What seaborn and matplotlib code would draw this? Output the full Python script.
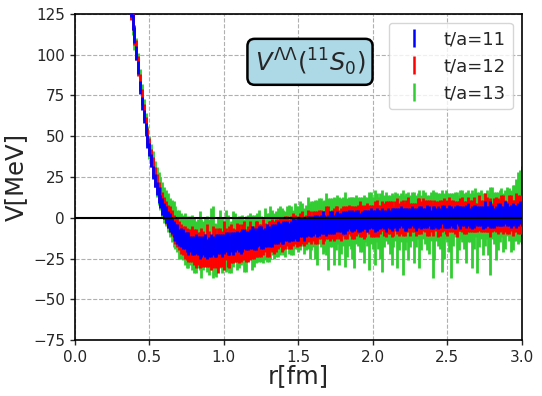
import matplotlib
matplotlib.use("Agg")
import matplotlib.pyplot as plt
from matplotlib.lines import Line2D
import seaborn as sns

# r values [fm] (lattice points, coarse set)
r = [0.350, 0.375, 0.400, 0.425, 0.450, 0.475, 0.500, 0.525, 0.550, 0.575,
     0.600, 0.625, 0.650, 0.675, 0.700, 0.725, 0.750, 0.775, 0.800, 0.825,
     0.850, 0.875, 0.900, 0.925, 0.950, 0.975, 1.000, 1.025, 1.050, 1.075,
     1.100, 1.125, 1.150, 1.175, 1.200, 1.225, 1.250, 1.275, 1.300, 1.325,
     1.350, 1.375, 1.400, 1.425, 1.450, 1.475, 1.500, 1.525, 1.550, 1.575,
     1.600, 1.625, 1.650, 1.675, 1.700, 1.725, 1.750, 1.775, 1.800, 1.825,
     1.850, 1.875, 1.900, 1.925, 1.950, 1.975, 2.000, 2.025, 2.050, 2.075,
     2.100, 2.125, 2.150, 2.175, 2.200, 2.225, 2.250, 2.275, 2.300, 2.325,
     2.350, 2.375, 2.400, 2.425, 2.450, 2.475, 2.500, 2.525, 2.550, 2.575,
     2.600, 2.625, 2.650, 2.675, 2.700, 2.725, 2.750, 2.775, 2.800, 2.825,
     2.850, 2.875, 2.900, 2.925, 2.950, 2.975, 3.000]
# r values in between
r_mid = [0.3625, 0.3875, 0.4125, 0.4375, 0.4625, 0.4875, 0.5125, 0.5375, 0.5625, 0.5875,
         0.6125, 0.6375, 0.6625, 0.6875, 0.7125, 0.7375, 0.7625, 0.7875, 0.8125, 0.8375,
         0.8625, 0.8875, 0.9125, 0.9375, 0.9625, 0.9875, 1.0125, 1.0375, 1.0625, 1.0875,
         1.1125, 1.1375, 1.1625, 1.1875, 1.2125, 1.2375, 1.2625, 1.2875, 1.3125, 1.3375,
         1.3625, 1.3875, 1.4125, 1.4375, 1.4625, 1.4875, 1.5125, 1.5375, 1.5625, 1.5875,
         1.6125, 1.6375, 1.6625, 1.6875, 1.7125, 1.7375, 1.7625, 1.7875, 1.8125, 1.8375,
         1.8625, 1.8875, 1.9125, 1.9375, 1.9625, 1.9875, 2.0125, 2.0375, 2.0625, 2.0875,
         2.1125, 2.1375, 2.1625, 2.1875, 2.2125, 2.2375, 2.2625, 2.2875, 2.3125, 2.3375,
         2.3625, 2.3875, 2.4125, 2.4375, 2.4625, 2.4875, 2.5125, 2.5375, 2.5625, 2.5875,
         2.6125, 2.6375, 2.6625, 2.6875, 2.7125, 2.7375, 2.7625, 2.7875, 2.8125, 2.8375,
         2.8625, 2.8875, 2.9125, 2.9375, 2.9625, 2.9875]

# t/a=11
v11 = [150, 128, 112, 92, 70, 54, 42, 28, 18, 10,
       4, -1, -5, -9, -12, -13, -15, -16, -17, -17,
       -18, -17, -18, -17, -17, -16, -16, -16, -15, -15,
       -15, -14, -14, -13, -13, -12, -12, -12, -11, -11,
       -10, -9, -9, -8, -8, -7, -7, -6, -6, -5,
       -5, -5, -4, -4, -4, -3, -3, -3, -3, -2,
       -2, -2, -2, -2, -1, -1, -1, -1, -1, -1,
       0, -1, 0, 0, 0, -1, 0, 0, 0, 0,
       0, 1, 0, 0, 0, 1, 0, 1, 0, 1,
       1, 1, 0, 1, 1, 1, 2, 1, 1, 1,
       2, 1, 2, 1, 2, 2, 2]
e11 = [6, 5, 5, 4, 4, 4, 4, 4, 4, 4,
       5, 5, 5, 5, 5, 6, 6, 5, 6, 6,
       6, 7, 6, 6, 7, 6, 6, 7, 6, 6,
       6, 7, 6, 6, 7, 6, 7, 6, 6, 7,
       6, 6, 7, 6, 6, 6, 7, 6, 6, 6,
       6, 7, 6, 6, 6, 7, 6, 6, 7, 6,
       6, 6, 7, 6, 6, 6, 6, 7, 6, 6,
       6, 7, 6, 6, 6, 7, 6, 6, 6, 7,
       6, 6, 7, 6, 6, 7, 6, 6, 7, 6,
       6, 7, 6, 7, 6, 6, 8, 6, 7, 6,
       7, 6, 7, 7, 6, 7, 7]
v11_mid = [139, 120, 101, 80, 62, 47, 35, 23, 14, 7,
           2, -3, -7, -10, -12, -14, -16, -17, -16, -18,
           -17, -19, -17, -18, -16, -17, -15, -17, -16, -14,
           -15, -13, -14, -12, -14, -11, -13, -11, -12, -10,
           -9, -10, -8, -9, -7, -8, -6, -7, -5, -6,
           -4, -5, -3, -5, -3, -4, -2, -3, -3, -1,
           -2, -1, -3, -1, -2, 0, -2, -1, 0, -2,
           -1, 0, -1, 1, -1, 0, 1, -1, 1, 0,
           1, -1, 1, 0, 2, 0, 1, 0, 2, 0,
           1, 2, 0, 2, 1, 0, 1, 2, 0, 2,
           1, 3, 1, 2, 1, 3]
e11_mid = [5, 5, 4, 4, 4, 4, 4, 4, 5, 5,
           5, 6, 5, 6, 6, 5, 7, 6, 6, 7,
           6, 6, 7, 6, 6, 7, 6, 6, 7, 6,
           7, 6, 6, 7, 6, 6, 6, 7, 6, 6,
           7, 6, 6, 6, 7, 6, 6, 7, 6, 6,
           6, 6, 7, 6, 7, 6, 6, 6, 7, 6,
           7, 6, 6, 6, 7, 6, 7, 6, 6, 7,
           6, 6, 7, 6, 7, 6, 6, 7, 6, 6,
           7, 6, 6, 7, 6, 6, 7, 6, 6, 7,
           6, 7, 7, 6, 6, 7, 6, 8, 6, 7,
           6, 7, 6, 7, 7, 7]

# t/a=12
v12 = [152, 127, 112, 93, 74, 57, 44, 31, 21, 13,
       6, 1, -3, -8, -11, -14, -16, -17, -18, -19,
       -18, -20, -19, -18, -21, -18, -17, -19, -16, -17,
       -16, -15, -17, -14, -15, -13, -14, -12, -13, -11,
       -11, -9, -10, -8, -9, -7, -8, -6, -7, -5,
       -5, -6, -4, -5, -3, -4, -3, -4, -2, -3,
       -2, -3, -1, -2, -2, -1, -2, 0, -1, -1,
       0, -1, 1, -1, 0, 1, -1, 0, 1, 0,
       1, 0, -1, 1, 0, 2, 0, 1, 0, 1,
       2, 0, 1, 2, 0, 1, 3, 1, 0, 2,
       1, 2, 0, 3, 1, 2, 2]
e12 = [7, 6, 6, 6, 5, 5, 5, 6, 6, 6,
       7, 7, 8, 8, 9, 9, 10, 10, 11, 10,
       12, 10, 11, 13, 10, 12, 15, 11, 12, 10,
       12, 11, 10, 12, 10, 11, 10, 9, 11, 10,
       10, 9, 10, 9, 10, 9, 9, 10, 9, 9,
       9, 10, 9, 9, 10, 9, 10, 9, 9, 10,
       9, 10, 9, 10, 10, 9, 10, 11, 9, 10,
       10, 11, 9, 10, 11, 10, 10, 9, 11, 10,
       10, 11, 10, 9, 11, 10, 11, 10, 10, 9,
       11, 10, 10, 11, 9, 10, 12, 10, 9, 11,
       10, 12, 10, 11, 10, 12, 12]
v12_mid = [140, 121, 103, 83, 65, 50, 37, 25, 16, 9,
           3, -1, -6, -9, -13, -15, -17, -16, -19, -20,
           -19, -17, -22, -18, -20, -19, -16, -18, -17, -15,
           -17, -14, -16, -15, -13, -14, -12, -14, -11, -12,
           -10, -11, -9, -10, -7, -9, -7, -8, -5, -7,
           -6, -4, -6, -3, -5, -4, -2, -4, -3, -1,
           -3, -2, -1, -3, 0, -2, -1, -2, 1, -1,
           0, -2, 1, 0, -1, 2, 0, -1, 1, 2,
           0, 1, 2, -1, 1, 0, 2, 1, -1, 2,
           0, 2, 1, 0, 3, 1, 2, 0, 2, 1,
           3, 1, 2, 0, 3, 2]
e12_mid = [6, 6, 6, 5, 5, 5, 5, 6, 6, 7,
           7, 8, 8, 9, 9, 10, 10, 11, 12, 11,
           11, 13, 10, 12, 14, 11, 10, 13, 11, 12,
           10, 12, 11, 10, 11, 10, 11, 10, 9, 10,
           9, 10, 10, 9, 10, 9, 10, 9, 10, 9,
           10, 9, 10, 10, 9, 10, 9, 10, 10, 9,
           10, 9, 11, 10, 9, 10, 11, 10, 9, 11,
           10, 9, 11, 10, 10, 11, 9, 10, 11, 10,
           11, 10, 9, 11, 10, 10, 11, 10, 11, 10,
           10, 11, 10, 9, 11, 10, 11, 12, 10, 11,
           11, 10, 12, 11, 12, 12]

# t/a=13
v13 = [155, 129, 110, 95, 76, 58, 43, 33, 22, 15,
       8, 3, -2, -6, -10, -12, -15, -14, -17, -16,
       -19, -14, -18, -15, -20, -13, -17, -15, -18, -12,
       -15, -13, -16, -11, -14, -12, -13, -10, -12, -9,
       -10, -8, -9, -6, -8, -5, -7, -4, -6, -8,
       -4, -9, -3, -5, -10, -3, -4, -8, -2, -6,
       -3, -9, -2, -4, -1, -8, -3, 0, -5, -2,
       -1, -7, 1, -3, -9, 0, -2, -6, 1, -3,
       0, -4, -10, 1, -2, -5, 0, -11, 2, -3,
       1, -6, 0, -2, -9, 2, -1, -4, 3, -5,
       1, -3, 4, -2, 3, 6, 8]
e13 = [8, 7, 7, 6, 6, 6, 7, 8, 9, 10,
       11, 12, 13, 13, 15, 14, 16, 15, 17, 15,
       18, 14, 17, 22, 16, 18, 15, 17, 16, 15,
       16, 15, 17, 14, 16, 15, 14, 16, 15, 14,
       14, 15, 14, 13, 15, 14, 14, 13, 14, 17,
       14, 20, 15, 16, 22, 15, 16, 21, 15, 18,
       16, 22, 15, 17, 14, 24, 16, 15, 20, 16,
       15, 22, 15, 17, 26, 15, 16, 22, 14, 17,
       16, 18, 27, 15, 17, 20, 15, 26, 14, 17,
       16, 22, 15, 17, 25, 15, 16, 19, 16, 21,
       16, 18, 15, 19, 17, 22, 24]
v13_mid = [142, 119, 104, 85, 67, 50, 38, 27, 18, 11,
           6, 0, -4, -8, -11, -13, -16, -15, -18, -14,
           -17, -16, -13, -19, -15, -17, -14, -19, -13, -16,
           -14, -17, -12, -15, -13, -11, -14, -12, -9, -11,
           -9, -7, -10, -7, -9, -6, -5, -8, -3, -5,
           -7, -2, -6, -4, -3, -8, -1, -5, -7, -2,
           -6, -1, -4, -7, -2, 0, -6, -3, -8, 1,
           -4, -2, -8, 0, -3, -5, 1, -2, -7, 2,
           -3, 1, -5, -1, -8, 2, -3, -1, -6, 2,
           -2, 1, -7, 3, -1, -4, 2, -8, 0, -2,
           3, -1, 2, 0, 5, 7]
e13_mid = [7, 7, 6, 6, 6, 6, 7, 8, 10, 11,
           11, 12, 14, 13, 14, 16, 15, 17, 16, 18,
           15, 17, 19, 16, 15, 17, 19, 15, 17, 16,
           15, 16, 14, 17, 15, 16, 14, 15, 16, 14,
           15, 13, 14, 15, 14, 13, 15, 14, 16, 15,
           18, 14, 16, 19, 15, 21, 15, 17, 23, 15,
           19, 15, 17, 21, 15, 16, 23, 16, 25, 15,
           18, 16, 23, 15, 17, 21, 15, 16, 24, 15,
           17, 15, 21, 16, 25, 15, 18, 16, 22, 15,
           17, 16, 24, 15, 17, 19, 15, 27, 16, 18,
           15, 18, 16, 20, 19, 22]

labels = ["t/a=11", "t/a=12", "t/a=13"]
colors = ["blue", "red", "limegreen"]

sns.set_style("ticks", {"axes.grid": True, "grid.linestyle": "--",
                        "grid.color": "#b0b0b0", "axes.edgecolor": "black",
                        "xtick.direction": "out", "ytick.direction": "out"})
plt.rcParams["font.family"] = ["DejaVu Sans"]

fig, ax = plt.subplots(figsize=(5.42, 3.96), dpi=100)
fig.subplots_adjust(left=0.138, right=0.963, bottom=0.141, top=0.965)

r_all = r + r_mid
series = [(v11 + v11_mid, e11 + e11_mid),
          (v12 + v12_mid, e12 + e12_mid),
          (v13 + v13_mid, e13 + e13_mid)]
# draw t/a=13 first so that t/a=11 ends up on top
for k in [2, 1, 0]:
    v, e = series[k]
    ax.errorbar(r_all, v, yerr=e, fmt="none", ecolor=colors[k],
                elinewidth=2.0, zorder=2 + (2 - k))

ax.axhline(0, color="black", lw=1.5, zorder=10)

ax.set_xlim(0, 3)
ax.set_ylim(-75, 125)
ax.set_xticks([0.0, 0.5, 1.0, 1.5, 2.0, 2.5, 3.0])
ax.set_yticks([-75, -50, -25, 0, 25, 50, 75, 100, 125])
ax.tick_params(labelsize=11, length=3.5, width=1)
ax.grid(True, ls="--", lw=0.8, color="#b0b0b0")
ax.set_axisbelow(True)
for s in ax.spines.values():
    s.set_linewidth(1.2)
    s.set_color("black")

ax.set_xlabel("r[fm]", fontsize=17.5)
ax.set_ylabel("V[MeV]", fontsize=17.5)
ax.xaxis.set_label_coords(0.5, -0.072)
ax.yaxis.set_label_coords(-0.105, 0.5)

handles = [Line2D([], [], color=c, marker="|", ls="none", markersize=13,
                  markeredgewidth=1.8) for c in colors]
ax.legend(handles, labels, loc="upper right", fontsize=13, handletextpad=0.65)

ax.text(0.526, 0.853, r"$V^{\Lambda\Lambda}(^{11}S_0)$", transform=ax.transAxes,
        ha="center", va="center", fontsize=17.5, zorder=12,
        bbox=dict(boxstyle="round,pad=0.3", facecolor="lightblue",
                  edgecolor="black", linewidth=1.8))

fig.savefig("out.png", dpi=100)
